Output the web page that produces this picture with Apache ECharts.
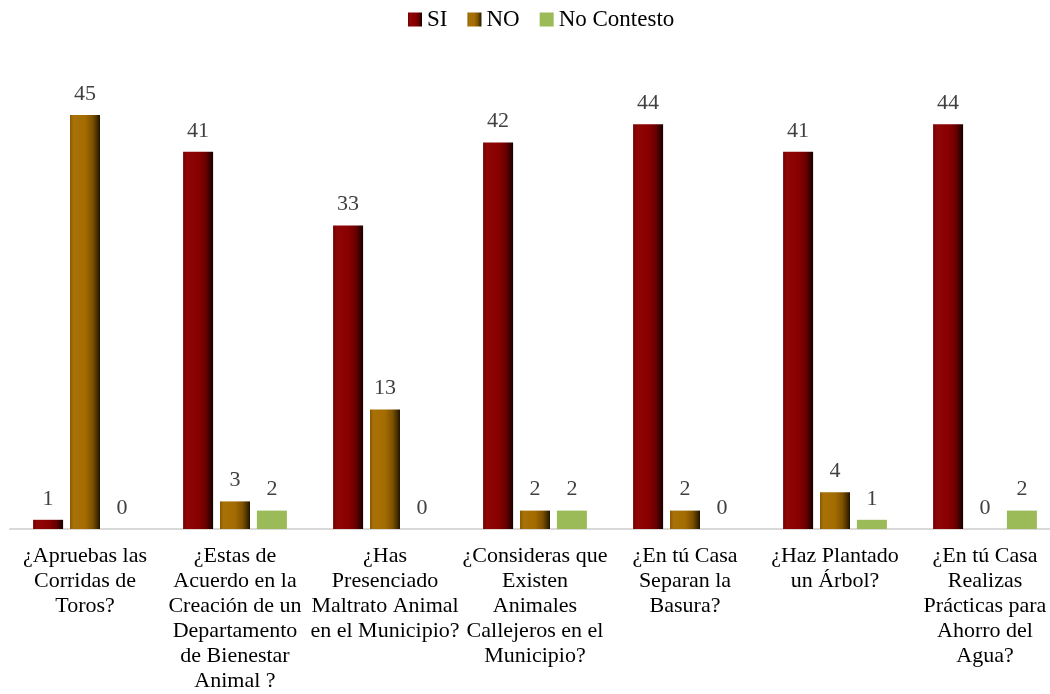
<!DOCTYPE html>
<html>
<head>
<meta charset="utf-8">
<script src="https://cdn.jsdelivr.net/npm/echarts@6/dist/echarts.min.js"></script>
<style>
html,body{margin:0;padding:0;background:#fff;overflow:hidden;}
#chart{width:1060px;height:694px;}
</style>
</head>
<body>
<div id="chart"></div>
<script>
var categories = [
  "¿Apruebas las\nCorridas de\nToros?",
  "¿Estas de\nAcuerdo en la\nCreación de un\nDepartamento\nde Bienestar\nAnimal ?",
  "¿Has\nPresenciado\nMaltrato Animal\nen el Municipio?",
  "¿Consideras que\nExisten\nAnimales\nCallejeros en el\nMunicipio?",
  "¿En tú Casa\nSeparan la\nBasura?",
  "¿Haz Plantado\nun Árbol?",
  "¿En tú Casa\nRealizas\nPrácticas para\nAhorro del\nAgua?"
];
var siValues = [1, 41, 33, 42, 44, 41, 44];
var noValues = [45, 3, 13, 2, 2, 4, 0];
var ncValues = [0, 2, 0, 2, 0, 1, 2];

var FONT = "Liberation Serif";

function grad(stops) {
  return new echarts.graphic.LinearGradient(0, 0, 1, 0, stops.map(function (s) { return { offset: s[0], color: s[1] }; }));
}
var siColor = grad([[0, '#6e0000'], [0.12, '#8e0606'], [0.5, '#8a0000'], [0.75, '#6a0000'], [0.9, '#3a0000'], [1, '#150000']]);
var noColor = grad([[0, '#8a5a00'], [0.12, '#a87208'], [0.5, '#a46c00'], [0.75, '#7e5200'], [0.9, '#4a3000'], [1, '#1e1400']]);
var ncColor = '#9bbb59';

var labelStyle = { show: true, position: 'top', distance: 10, color: '#404040', fontFamily: FONT, fontSize: 22 };

var chart = echarts.init(document.getElementById('chart'), null, { renderer: 'canvas' });
chart.setOption({
  animation: false,
  backgroundColor: '#ffffff',
  textStyle: { fontFamily: FONT },
  legend: {
    top: 3,
    left: 403,
    icon: 'rect',
    itemWidth: 14,
    itemHeight: 14,
    itemGap: 20,
    textStyle: { fontFamily: FONT, fontSize: 23, color: '#000' },
    data: ['SI', 'NO', 'No Contesto']
  },
  grid: { left: 10, right: 0, top: 69, bottom: 162, containLabel: false },
  xAxis: {
    type: 'category',
    data: categories,
    axisLine: { show: true, lineStyle: { color: '#d9d9d9', width: 2 } },
    axisTick: { show: false },
    axisLabel: { interval: 0, margin: 15, color: '#000', fontFamily: FONT, fontSize: 22, lineHeight: 25 }
  },
  yAxis: { type: 'value', min: 0, max: 50, show: false, splitLine: { show: false } },
  series: [
    { name: 'SI', type: 'bar', data: siValues, barWidth: 30, barGap: '23%', itemStyle: { color: siColor }, label: labelStyle },
    { name: 'NO', type: 'bar', data: noValues, barWidth: 30, barGap: '23%', itemStyle: { color: noColor }, label: labelStyle },
    { name: 'No Contesto', type: 'bar', data: ncValues, barWidth: 30, barGap: '23%', itemStyle: { color: ncColor }, label: labelStyle }
  ]
});
</script>
</body>
</html>
